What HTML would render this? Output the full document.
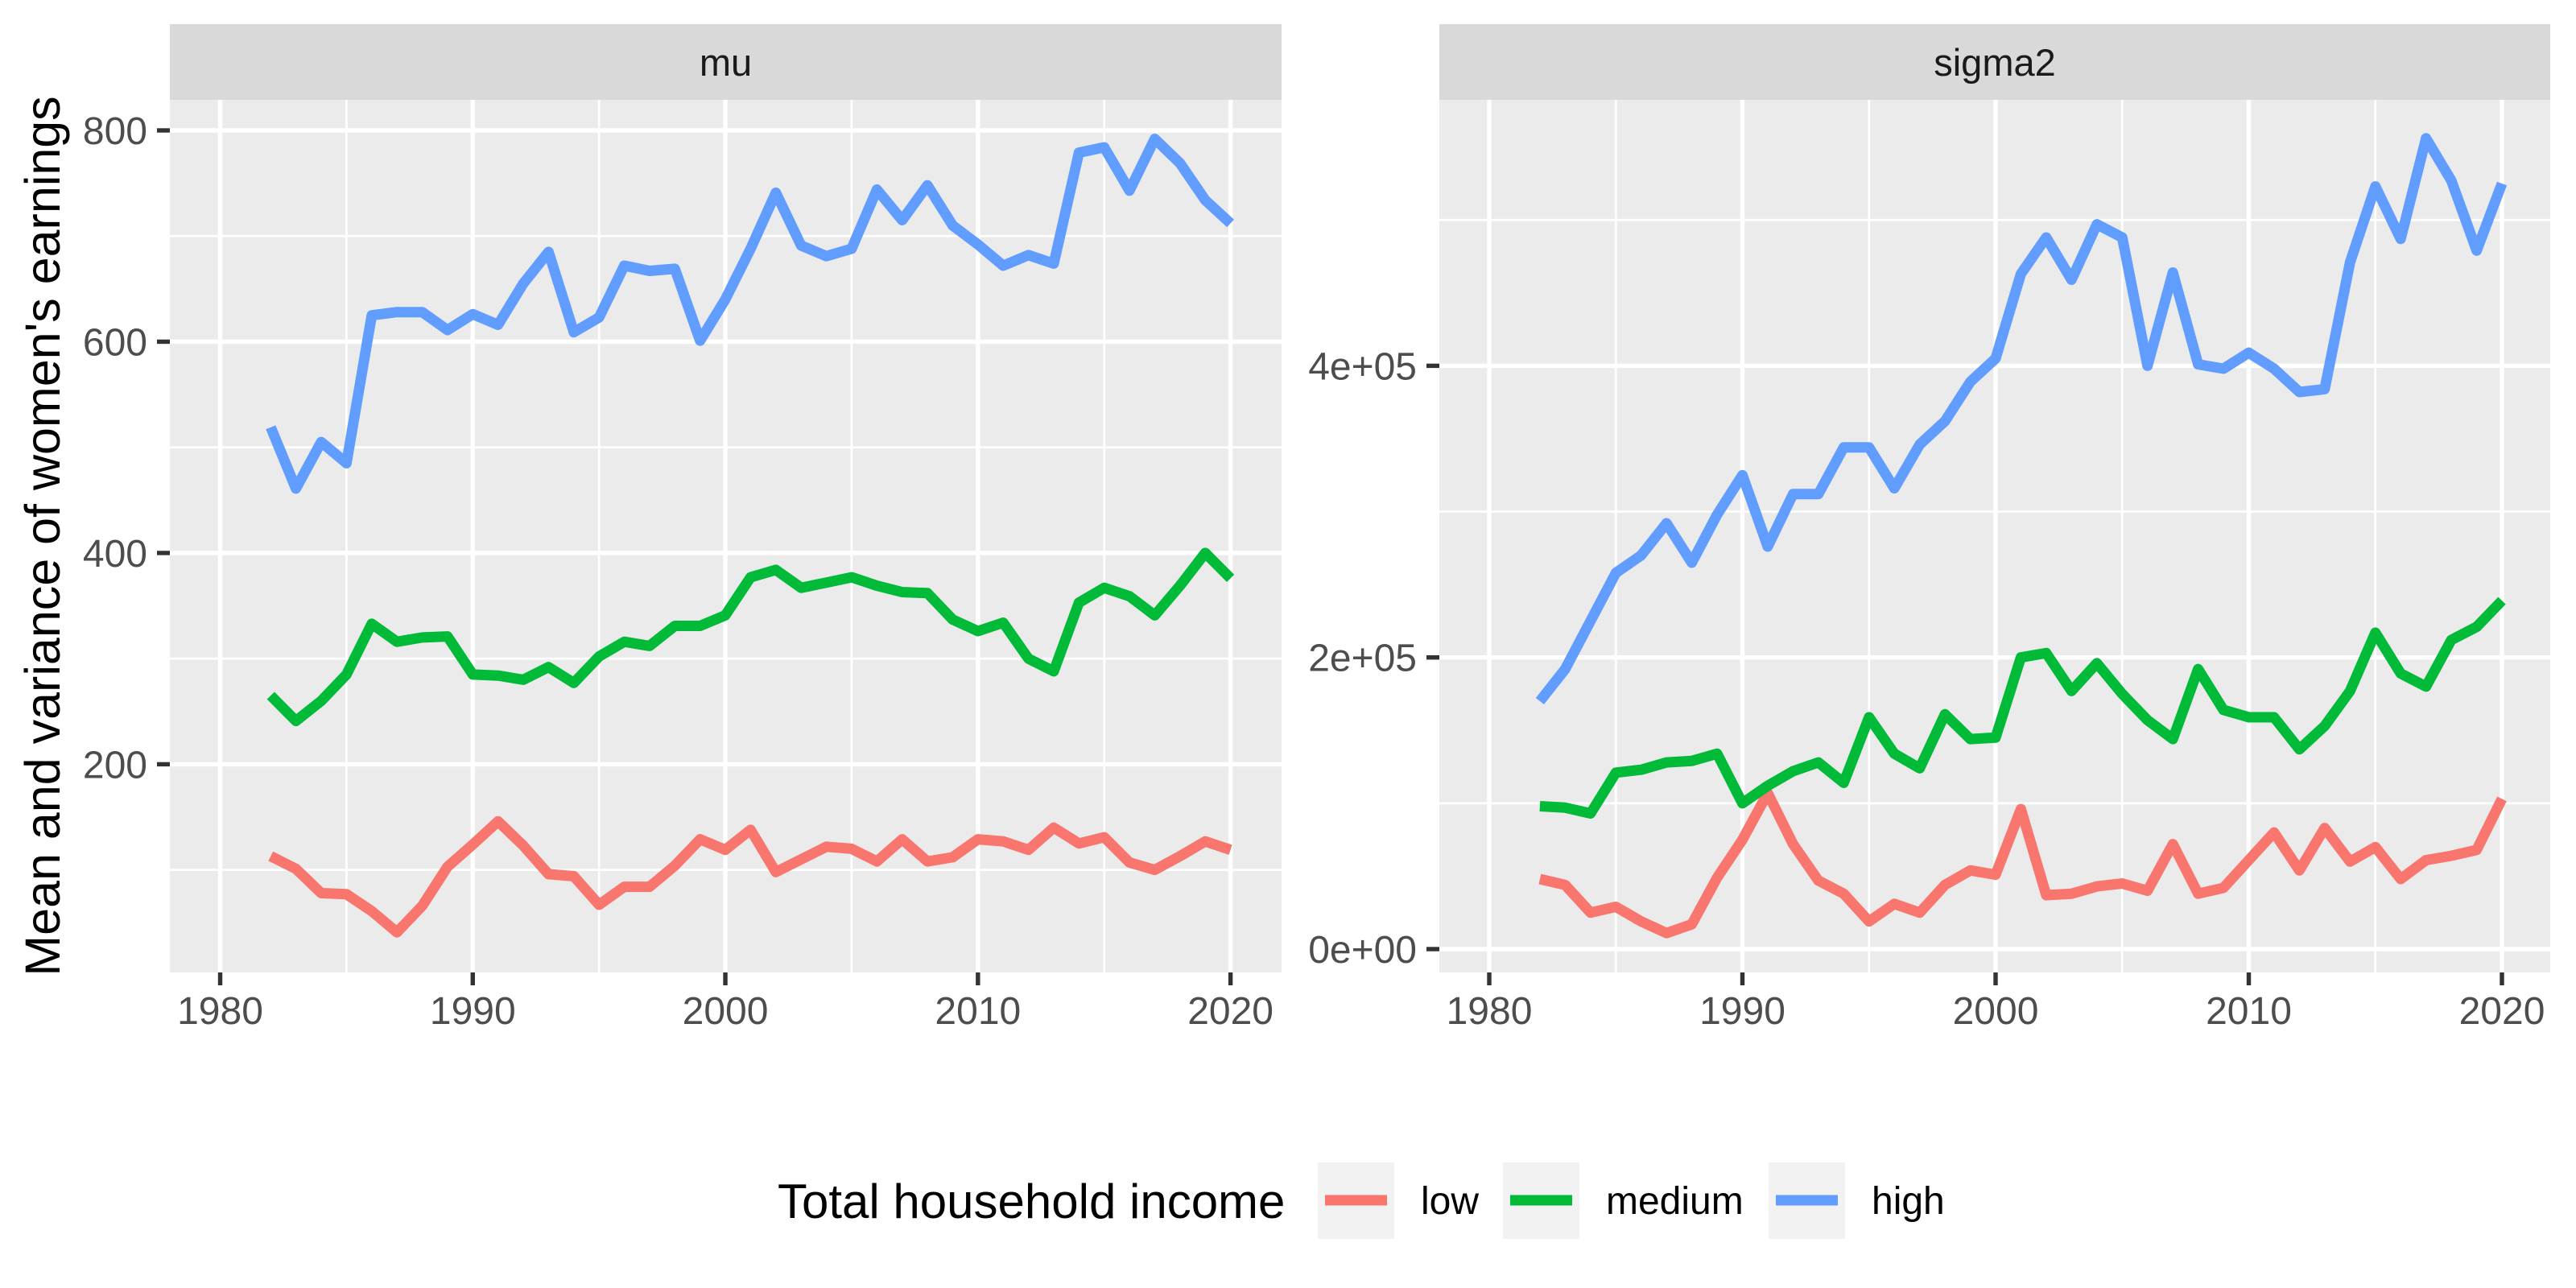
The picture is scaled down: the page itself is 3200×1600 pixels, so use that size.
<!DOCTYPE html>
<html><head><meta charset="utf-8"><style>
html,body{margin:0;padding:0;background:#fff;}
svg{display:block;font-family:"Liberation Sans",Arial,sans-serif;}
</style></head><body>
<svg id="chart" width="3200" height="1600" viewBox="0 0 3200 1600" xmlns="http://www.w3.org/2000/svg">
<g id="root"></g>
</svg>
<script>
const years = [];
for (let y = 1982; y <= 2020; y++) years.push(y);
const muLow = [113,101,78,77,61,41,66,103,124,146,123,96,94,67,84,84,104,129,119,138,98,110,122,120,108,129,108,112,129,127,119,140,125,131,107,100,113,127,119];
const muMedium = [265,241,260,285,333,316,320,321,285,284,280,292,277,302,316,312,331,331,341,377,384,367,372,377,369,363,362,337,326,334,300,288,353,367,359,341,369,400,376];
const muHigh = [519,461,505,485,625,628,628,611,626,616,655,685,609,623,672,667,669,601,640,688,741,691,681,688,744,715,748,710,692,672,682,674,779,784,743,792,769,734,712];
const sigLow = [0.48,0.44,0.25,0.29,0.19,0.11,0.17,0.49,0.75,1.07,0.72,0.47,0.38,0.19,0.31,0.25,0.44,0.54,0.51,0.96,0.37,0.38,0.43,0.45,0.40,0.72,0.38,0.42,0.61,0.80,0.54,0.83,0.60,0.70,0.48,0.61,0.64,0.68,1.03].map(v=>v*1e5);
const sigMedium = [0.98,0.97,0.93,1.21,1.23,1.28,1.29,1.34,1.00,1.12,1.22,1.28,1.14,1.59,1.34,1.24,1.61,1.44,1.45,2.00,2.03,1.77,1.96,1.75,1.57,1.44,1.92,1.64,1.59,1.59,1.37,1.53,1.77,2.17,1.89,1.80,2.12,2.21,2.39].map(v=>v*1e5);
const sigHigh = [1.70,1.92,2.25,2.58,2.70,2.92,2.65,2.98,3.25,2.76,3.12,3.12,3.44,3.44,3.16,3.46,3.62,3.89,4.05,4.63,4.88,4.59,4.97,4.88,4.00,4.64,4.01,3.98,4.09,3.98,3.82,3.84,4.71,5.23,4.87,5.56,5.27,4.79,5.25].map(v=>v*1e5);
const xTicks = [1980,1990,2000,2010,2020];
const muTicks = [200,400,600,800];
const muTickLabels = ["200","400","600","800"];
const sigTicks = [0,200000,400000];
const sigTickLabels = ["0e+00","2e+05","4e+05"];
const seriesNames = ["low","medium","high"];
const colors = ["#F8766D","#00BA38","#619CFF"];

const NS = "http://www.w3.org/2000/svg";
const root = document.getElementById("root");
function mk(tag, attrs, parent, text){
  const e = document.createElementNS(NS, tag);
  for (const k in attrs) e.setAttribute(k, attrs[k]);
  if (text !== undefined) e.textContent = text;
  (parent||root).appendChild(e);
  return e;
}

function panel(opt){
  const g = mk("g", {});
  
  
  const sx = v => opt.x0 + (v - 1980) * (opt.x1 - opt.x0) / 40;
  const sy = v => opt.yA + (v - opt.vA) * (opt.yB - opt.yA) / (opt.vB - opt.vA);
  const bg = mk("rect", {x:opt.L, y:124, width:opt.R-opt.L, height:1208-124, fill:"#EBEBEB"}, g);
  
  
  const strip = mk("rect", {x:opt.L, y:30, width:opt.R-opt.L, height:94, fill:"#D9D9D9"}, g);
  
  
  const st = mk("text", {x:(opt.L+opt.R)/2, y:94, "font-size":47, fill:"#1A1A1A", "text-anchor":"middle"}, g, opt.name);
  
  
  const vMin = opt.vA + (1208 - opt.yA) * (opt.vB - opt.vA) / (opt.yB - opt.yA);
  const vMax = opt.vA + (124 - opt.yA) * (opt.vB - opt.vA) / (opt.yB - opt.yA);
  for (let i = 0; i < opt.ticks.length + 1; i++){
    const step = opt.ticks[1]-opt.ticks[0];
    const v = opt.ticks[0] - step/2 + i*step;
    if (v > vMin && v < vMax){
      const l = mk("line", {x1:opt.L, x2:opt.R, y1:sy(v), y2:sy(v), stroke:"#fff", "stroke-width":2.7}, g);
      
      
    }
  }
  for (let i = 0; i < xTicks.length - 1; i++){
    const v = xTicks[i] + 5;
    const l = mk("line", {x1:sx(v), x2:sx(v), y1:124, y2:1208, stroke:"#fff", "stroke-width":2.7}, g);
    
    
  }
  opt.ticks.forEach((v, i) => {
    const l = mk("line", {x1:opt.L, x2:opt.R, y1:sy(v), y2:sy(v), stroke:"#fff", "stroke-width":5.4}, g);
    
    
    const t = mk("line", {x1:opt.L-16, x2:opt.L, y1:sy(v), y2:sy(v), stroke:"#333", "stroke-width":5.4}, g);
    
    
    const tl = mk("text", {x:opt.L-28, y:sy(v)+17, "font-size":48, fill:"#4D4D4D", "text-anchor":"end"}, g, opt.labels[i]);
    
    
  });
  xTicks.forEach(v => {
    const l = mk("line", {x1:sx(v), x2:sx(v), y1:124, y2:1208, stroke:"#fff", "stroke-width":5.4}, g);
    
    
    const t = mk("line", {x1:sx(v), x2:sx(v), y1:1208, y2:1224, stroke:"#333", "stroke-width":5.4}, g);
    
    
    const tl = mk("text", {x:sx(v), y:1272, "font-size":48, fill:"#4D4D4D", "text-anchor":"middle"}, g, String(v));
    
    
  });
  opt.series.forEach((arr, si) => {
    const d = arr.map((v, i) => (i ? "L" : "M") + sx(years[i]).toFixed(1) + "," + sy(v).toFixed(1)).join(" ");
    const p = mk("path", {d:d, fill:"none", stroke:colors[si], "stroke-width":13, "stroke-linejoin":"round", "stroke-linecap":"butt"}, g);
    
    
  });
}

panel({name:"mu", L:211, R:1592, x0:273.5, x1:1528.6, vA:200, yA:949.4, vB:800, yB:162,
  ticks:muTicks, labels:muTickLabels, series:[muLow, muMedium, muHigh]});
panel({name:"sigma2", L:1788, R:3168, x0:1850, x1:3108, vA:0, yA:1179, vB:400000, yB:454.4,
  ticks:sigTicks, labels:sigTickLabels, series:[sigLow, sigMedium, sigHigh]});

const yt = mk("text", {x:0, y:0, "font-size":61, fill:"#000", "text-anchor":"middle", transform:"translate(74,666) rotate(-90)"}, root, "Mean and variance of women's earnings");



const lg = mk("g", {});


const ltitle = mk("text", {x:966, y:1513, "font-size":60, fill:"#000"}, lg, "Total household income");


const keyX = [1637, 1867, 2197];
seriesNames.forEach((n, i) => {
  const box = mk("rect", {x:keyX[i], y:1444, width:95, height:95, fill:"#F2F2F2"}, lg);
  
  
  const ln = mk("line", {x1:keyX[i]+9, x2:keyX[i]+86, y1:1491, y2:1491, stroke:colors[i], "stroke-width":13}, lg);
  
  
  const t = mk("text", {x:keyX[i]+128, y:1508, "font-size":48, fill:"#000"}, lg, n);
  
  
});
</script>
</body></html>
